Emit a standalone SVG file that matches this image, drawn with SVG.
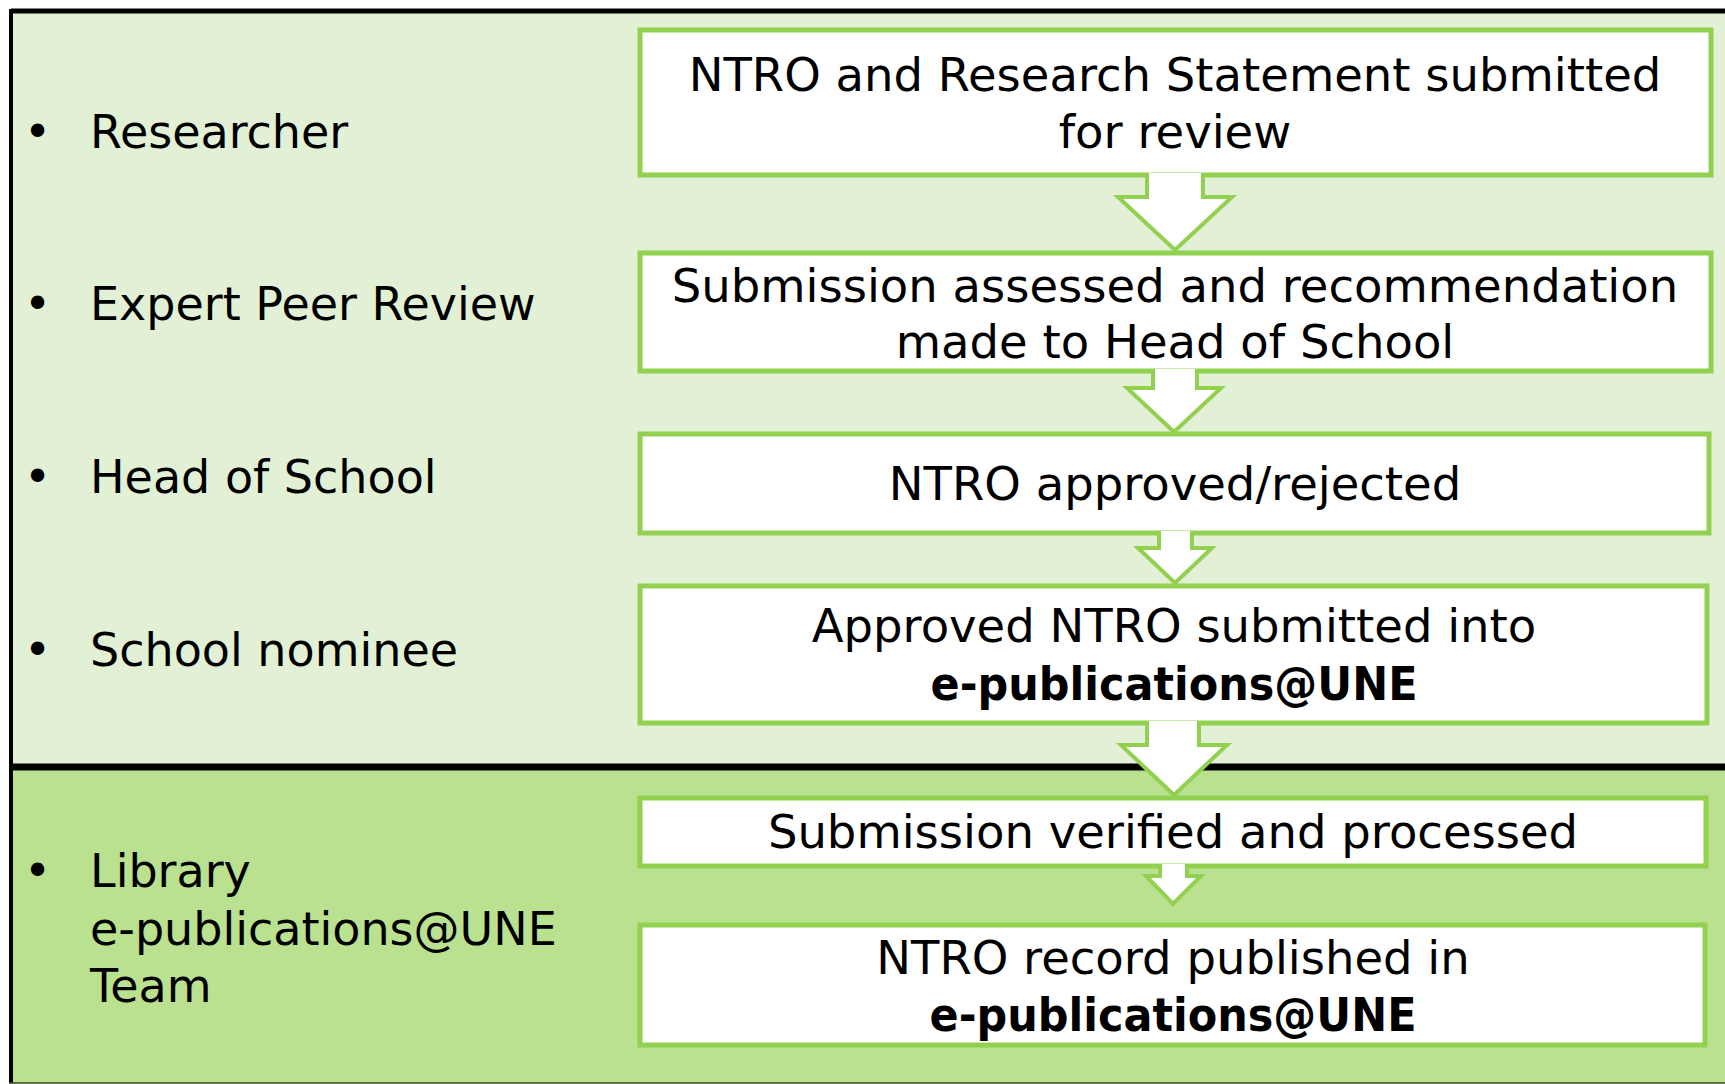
<svg xmlns="http://www.w3.org/2000/svg" width="1725" height="1084" viewBox="0 0 1725 1084">
<style>
.lbl{font-family:"DejaVu Sans","Liberation Sans",sans-serif;font-size:46px;fill:#000}
.box{fill:#fff;stroke:#92D050;stroke-width:5}
.btxt{font-family:"DejaVu Sans","Liberation Sans",sans-serif;font-size:46.5px;fill:#000;text-anchor:middle}
.bold{font-weight:bold}
.arr{fill:#fff;stroke:#92D050;stroke-width:4;stroke-linejoin:miter}
</style>
<rect x="0" y="0" width="1725" height="1084" fill="#fff"/>
<g id="bands">
<rect x="11" y="11" width="1716" height="756" fill="#E2F0D6"/>
<rect x="11" y="767" width="1716" height="316" fill="#BAE190"/>
<line x1="11" y1="11" x2="1725" y2="11" stroke="#000" stroke-width="5"/>
<line x1="11" y1="9" x2="11" y2="1083" stroke="#000" stroke-width="4"/>
<line x1="9" y1="767" x2="1725" y2="767" stroke="#000" stroke-width="7"/>
<line x1="9" y1="1083" x2="1725" y2="1083" stroke="#3a4a2a" stroke-width="1.5"/>
</g>
<g id="roles">
<text class="lbl" y="148"><tspan x="24">•</tspan><tspan x="90">Researcher</tspan></text>
<text class="lbl" y="320"><tspan x="24">•</tspan><tspan x="90">Expert Peer Review</tspan></text>
<text class="lbl" y="493"><tspan x="24">•</tspan><tspan x="90">Head of School</tspan></text>
<text class="lbl" y="666"><tspan x="24">•</tspan><tspan x="90">School nominee</tspan></text>
<text class="lbl" y="887"><tspan x="24">•</tspan><tspan x="90">Library</tspan><tspan x="90" y="945">e-publications@UNE</tspan><tspan x="90" y="1002">Team</tspan></text>
</g>
<g id="node1"><rect class="box" x="640" y="30" width="1071" height="145"/>
<text class="btxt" x="1175" y="91">NTRO and Research Statement submitted<tspan x="1175" y="148">for review</tspan></text></g>
<g id="node2"><rect class="box" x="640" y="253" width="1071" height="118"/>
<text class="btxt" x="1175" y="302">Submission assessed and recommendation<tspan x="1175" y="358">made to Head of School</tspan></text></g>
<g id="node3"><rect class="box" x="640" y="434" width="1069" height="99"/>
<text class="btxt" x="1175" y="500">NTRO approved/rejected</text></g>
<g id="node4"><rect class="box" x="640" y="586" width="1067" height="137"/>
<text class="btxt" x="1174" y="642">Approved NTRO submitted into</text>
<text class="btxt bold" x="1174" y="700" textLength="487" lengthAdjust="spacingAndGlyphs">e-publications@UNE</text></g>
<g id="node5"><rect class="box" x="640" y="798" width="1066" height="68"/>
<text class="btxt" x="1173" y="848">Submission verified and processed</text></g>
<g id="node6"><rect class="box" x="640" y="925" width="1065" height="120"/>
<text class="btxt" x="1173" y="974">NTRO record published in</text>
<text class="btxt bold" x="1173" y="1031" textLength="487" lengthAdjust="spacingAndGlyphs">e-publications@UNE</text></g>
<g id="connectors">
<path class="arr" d="M1147,173 V197 H1118 L1175,250 L1232,197 H1203 V173"/>
<path class="arr" d="M1153,369 V388 H1127 L1174,432 L1221,388 H1197 V369"/>
<path class="arr" d="M1159,531 V548 H1138 L1175,583 L1212,548 H1192 V531"/>
<path class="arr" d="M1147,721 V745 H1121 L1174,795 L1227,745 H1199 V721"/>
<path class="arr" d="M1160,864 V876 H1146 L1173,904 L1201,876 H1187 V864"/>
</g>
</svg>
